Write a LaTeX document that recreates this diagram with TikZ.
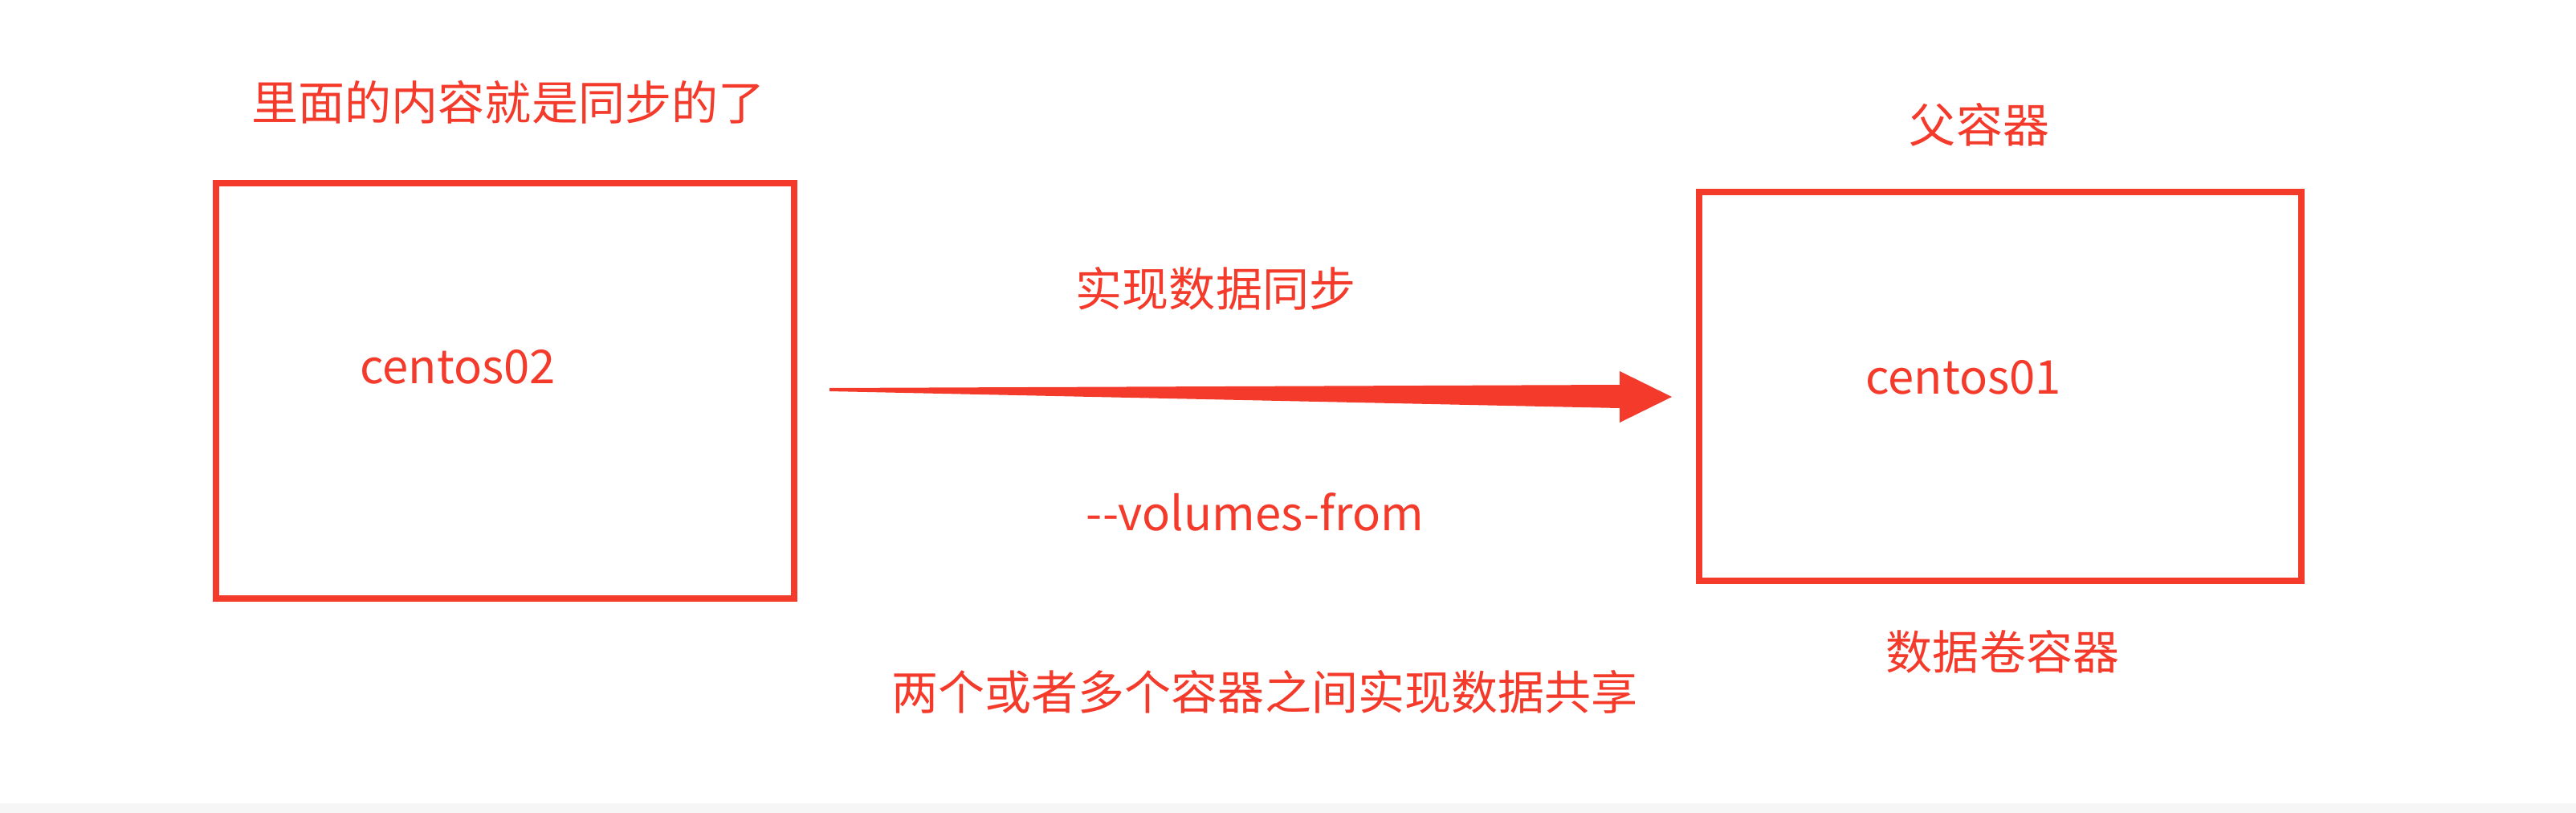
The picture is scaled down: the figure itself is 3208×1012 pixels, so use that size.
\documentclass[tikz,border=0pt]{standalone}
\usepackage{fontspec}
\setmainfont{Noto Sans CJK SC}
\definecolor{redline}{RGB}{244,58,42}
\definecolor{bandgray}{RGB}{246,246,246}
\begin{document}
\begin{tikzpicture}[x=0.01cm,y=-0.01cm,
  box/.style={draw=redline,line width=2.3pt,minimum width=7.2cm,minimum height=5.17cm,inner sep=0pt},
  lbl/.style={text=redline,font=\fontsize{16.5pt}{18pt}\selectfont,anchor=base,inner sep=0pt}]
\useasboundingbox (0,0) rectangle (3208,1012);
\fill[white] (0,0) rectangle (3208,1012);
\fill[bandgray] (0,1000) rectangle (3208,1012);
% boxes
\node[box] (b2) at (629,486.5) {};
\node[box,minimum width=7.5cm,minimum height=4.84cm] (b1) at (2491,481) {};
% labels
\node[lbl] (t2) at (633,149) {里面的内容就是同步的了};
\node[lbl] (c02) at (570,477) {centos02};
\node[lbl] (t1) at (2465,177) {父容器};
\node[lbl] (c01) at (2445,490) {centos01};
\node[lbl] (t1b) at (2494,833) {数据卷容器};
\node[lbl] (sync) at (1514,381) {实现数据同步};
\node[lbl] (vf) at (1563,660) {-{}-volumes-from};
\node[lbl] (share) at (1575,883) {两个或者多个容器之间实现数据共享};
% tapered arrow
\coordinate (tail) at (1033,485);
\coordinate (tip) at (2082,494);
\fill[redline] (tail) -- ++(0,-2) -- (2017,479) -- (2017,462) -- (tip) -- (2017,526) -- (2017,508) -- ([yshift=-0.02cm]tail) -- cycle;
\end{tikzpicture}
\end{document}
